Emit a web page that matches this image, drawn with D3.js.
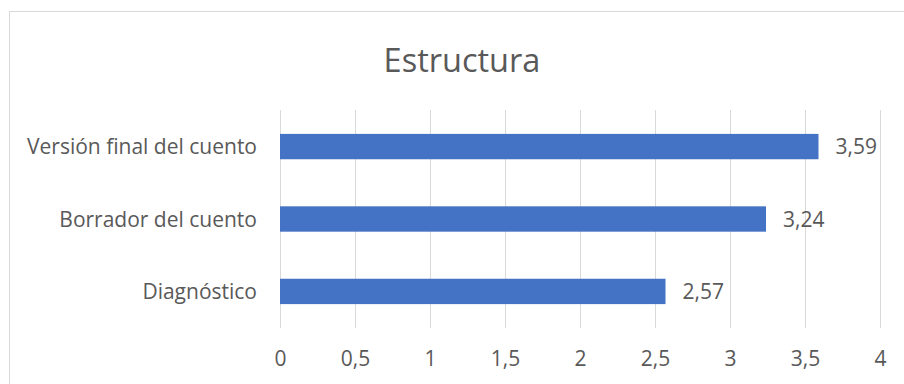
<!DOCTYPE html>
<html>
<head>
<meta charset="utf-8">
<script src="https://cdn.jsdelivr.net/npm/d3@7"></script>
<style>
  body { margin: 0; background: #fff; }
  text { font-family: "Open Sans", "Noto Sans", sans-serif; fill: #595959; }
</style>
</head>
<body>
<div id="chart"></div>
<script>
// categories top to bottom, as shown
const categories = ["Versión final del cuento", "Borrador del cuento", "Diagnóstico"];
const values = [3.59, 3.24, 2.57];
const xTicks = [0, 0.5, 1, 1.5, 2, 2.5, 3, 3.5, 4];
const chartTitle = "Estructura";

const W = 904, H = 384;
const margin = {top: 110, right: 24, bottom: 56, left: 280};
const width = 880 - margin.left;
const height = 328 - margin.top;

const svg = d3.select("#chart").append("svg")
    .attr("width", W)
    .attr("height", H);

// chart frame (right and bottom edges fall outside the picture)
svg.append("rect")
    .attr("x", 9.5).attr("y", 11.5)
    .attr("width", 920).attr("height", 400)
    .attr("fill", "none")
    .attr("stroke", "#d9d9d9");

svg.append("text")
    .attr("x", 462).attr("y", 72)
    .attr("text-anchor", "middle")
    .style("font-size", "32.5px")
    .text(chartTitle);

const g = svg.append("g")
    .attr("transform", "translate(" + margin.left + "," + margin.top + ")");

const x = d3.scaleLinear().domain([0, 4]).range([0, width]);
const y = d3.scaleBand().domain(categories).range([0, height]).paddingInner(0.65).paddingOuter(0.33);

// gridlines
g.selectAll(".grid")
    .data(xTicks)
    .join("line")
    .attr("x1", d => Math.round(x(d)) + 0.5)
    .attr("x2", d => Math.round(x(d)) + 0.5)
    .attr("y1", 0).attr("y2", height)
    .attr("stroke", "#d9d9d9");

// bars
g.selectAll(".bar")
    .data(values)
    .join("rect")
    .attr("x", x(0))
    .attr("y", (d, i) => y(categories[i]))
    .attr("width", d => x(d))
    .attr("height", y.bandwidth())
    .attr("fill", "#4472c4");

// value labels
g.selectAll(".val")
    .data(values)
    .join("text")
    .attr("x", d => x(d) + 17)
    .attr("y", (d, i) => y(categories[i]) + y.bandwidth() / 2)
    .attr("dy", "0.36em")
    .style("font-size", "21px")
    .text(d => d3.format(".2f")(d).replace(".", ","));

// category axis
const yAxis = g.append("g").call(d3.axisLeft(y).tickSize(0).tickPadding(23));
yAxis.select(".domain").remove();
yAxis.selectAll("text").style("font-size", "21px").attr("dy", "0.36em").attr("fill", "#595959");

// value axis
const xAxis = g.append("g")
    .attr("transform", "translate(0," + height + ")")
    .call(d3.axisBottom(x).tickValues(xTicks).tickSize(0).tickPadding(23)
        .tickFormat(d => String(d).replace(".", ",")));
xAxis.select(".domain").remove();
xAxis.selectAll("text").style("font-size", "21px").attr("fill", "#595959");
</script>
</body>
</html>
